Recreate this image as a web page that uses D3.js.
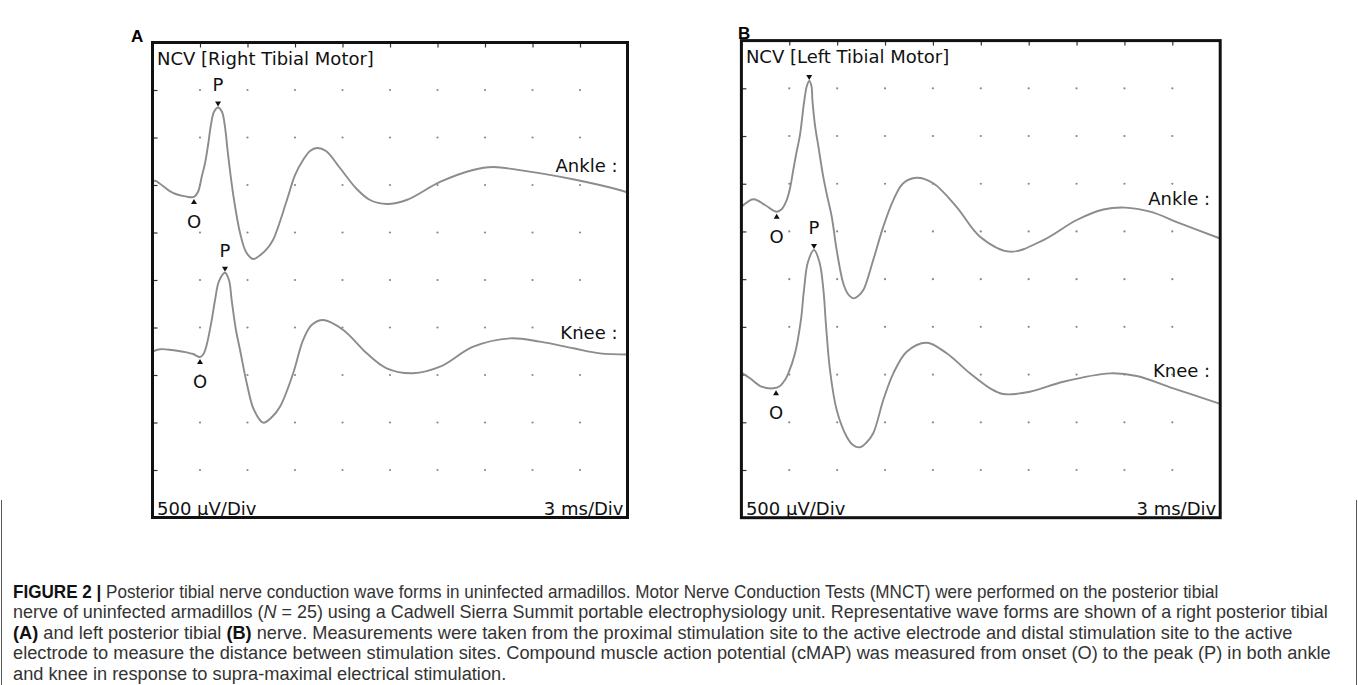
<!DOCTYPE html>
<html>
<head>
<meta charset="utf-8">
<script src="https://cdn.jsdelivr.net/npm/d3@7"></script>
<style>
  body { margin: 0; background: #fff; }
  svg { display: block; }
</style>
</head>
<body>
<script>
'use strict';
// time in ms (3 ms/div), amplitude in µV (500 µV/div)
let xDivs = d3.range(1, 10).map(function(d){ return d * 3; });
let yDivs = d3.range(-4, 5).map(function(d){ return d * 500; });

let titles = ["NCV [Right Tibial Motor]", "NCV [Left Tibial Motor]"];
let panelLetters = ["A", "B"];
let traceNames = ["Ankle :", "Knee :"];

let ankleA = [[0,1032],[0.16,1045],[0.66,989],[1.29,916],[2.16,877],[2.62,874],[2.87,926],[3.11,1087],[3.32,1232],[3.51,1421],[3.69,1632],[3.88,1768],[4.14,1816],[4.39,1768],[4.58,1610],[4.74,1368],[4.89,1158],[5.15,842],[5.53,495],[5.91,295],[6.35,221],[6.73,253],[7.17,316],[7.61,421],[8.49,842],[9.0,1105],[9.51,1263],[9.95,1358],[10.39,1389],[10.96,1358],[11.84,1179],[12.9,958],[13.74,842],[14.81,800],[16.05,842],[18.16,1032],[20.24,1158],[21.51,1189],[23.4,1151],[26.56,1060],[29.72,937],[30,921]];
let kneeA = [[0,-753],[0.47,-729],[1.23,-737],[1.93,-755],[2.56,-779],[3.0,-811],[3.22,-779],[3.42,-684],[3.74,-421],[3.95,-211],[4.2,-11],[4.58,77],[4.83,0],[5.0,-211],[5.27,-526],[5.53,-737],[5.95,-1084],[6.41,-1368],[7.0,-1502],[7.48,-1453],[8.05,-1334],[8.89,-979],[9.51,-632],[10.05,-474],[10.79,-421],[12.05,-526],[13.53,-772],[14.79,-930],[16.47,-982],[18.16,-913],[20.26,-702],[22.58,-614],[24.47,-649],[26.58,-719],[28.26,-772],[30,-784]];
let ankleB = [[0,756],[0.75,837],[1.48,777],[2.21,707],[2.54,735],[2.84,829],[3.05,955],[3.25,1144],[3.42,1301],[3.67,1511],[3.92,1846],[4.1,2024],[4.25,2077],[4.39,2024],[4.45,1877],[4.61,1615],[4.86,1353],[5.11,1091],[5.36,882],[5.66,654],[5.97,305],[6.38,-43],[6.68,-156],[7.01,-201],[7.31,-177],[7.64,-114],[8.26,201],[8.89,550],[9.52,829],[10.14,1005],[10.98,1063],[12.02,1005],[13.49,756],[14.95,445],[16.83,288],[18.92,410],[21.01,620],[22.68,730],[24.04,750],[25.61,707],[27.49,585],[30,426]];
let kneeB = [[0,-980],[0.54,-1039],[1.27,-1127],[2.0,-1144],[2.42,-1120],[2.73,-1057],[2.94,-987],[3.36,-777],[3.73,-428],[3.92,-114],[4.17,180],[4.55,305],[4.89,180],[5.14,-114],[5.3,-481],[5.55,-952],[5.97,-1371],[6.6,-1651],[6.99,-1738],[7.43,-1762],[7.81,-1717],[8.26,-1615],[8.89,-1267],[9.52,-987],[10.36,-760],[11.61,-666],[12.86,-777],[14.32,-987],[15.58,-1144],[16.41,-1204],[18.08,-1180],[20.17,-1075],[23.1,-987],[24.77,-1015],[27.06,-1144],[30,-1308]];

// label position of "Ankle :" / "Knee :" (µV of baseline)
let labelAmpA = [1140, -624];
let labelAmpB = [777, -1022];

// peak (P) and onset (O) markers: [ms, µV]
let peaksA = [[4.14, 1816], [4.58, 77]];
let onsetsA = [[2.62, 874], [3.0, -811]];
let peaksB = [[4.25, 2077], [4.55, 305]];
let onsetsB = [[2.21, 707], [2.17, -1144]];
let showPeakLabelB = [false, true];

let captionLines = [
  [["FIGURE 2 | ", "b"], ["Posterior tibial nerve conduction wave forms in uninfected armadillos. Motor Nerve Conduction Tests (MNCT) were performed on the posterior tibial", ""]],
  [["nerve of uninfected armadillos (", ""], ["N", "i"], [" = 25) using a Cadwell Sierra Summit portable electrophysiology unit. Representative wave forms are shown of a right posterior tibial", ""]],
  [["(A)", "b"], [" and left posterior tibial ", ""], ["(B)", "b"], [" nerve. Measurements were taken from the proximal stimulation site to the active electrode and distal stimulation site to the active", ""]],
  [["electrode to measure the distance between stimulation sites. Compound muscle action potential (cMAP) was measured from onset (O) to the peak (P) in both ankle", ""]],
  [["and knee in response to supra-maximal electrical stimulation.", ""]]
];
// full-line widths of the justified lines (last line keeps the same glyph scale)
let captionWidths = [1206, 1316, 1280, 1318, null];

let svg = d3.select("body").append("svg")
	.attr("width", 1358)
	.attr("height", 685);

svg.append("rect").attr("width", 1358).attr("height", 685).attr("fill", "#fff");

let panels = [
	{x0: 152.5, x1: 627.5, y0: 42.5, y1: 517.5, traces: [ankleA, kneeA], labelAmp: labelAmpA,
	 peaks: peaksA, onsets: onsetsA, showP: [true, true], letterX: 131, letterY: 41.5},
	{x0: 741.4, x1: 1220.2, y0: 40.6, y1: 517.7, traces: [ankleB, kneeB], labelAmp: labelAmpB,
	 peaks: peaksB, onsets: onsetsB, showP: showPeakLabelB, letterX: 738, letterY: 38.5}
];

let font = "'DejaVu Sans', Verdana, sans-serif";

panels.forEach(function(p, pi){
	let x = d3.scaleLinear().domain([0, 30]).range([p.x0, p.x1]);
	let y = d3.scaleLinear().domain([-2500, 2500]).range([p.y1, p.y0]);
	let g = svg.append("g");

	// grid dots
	let cells = [];
	xDivs.forEach(function(t){ yDivs.forEach(function(v){ cells.push([t, v]); }); });
	g.selectAll("circle.dot")
		.data(cells)
		.enter().append("circle")
			.attr("class", "dot")
			.attr("cx", function(d){ return x(d[0]); })
			.attr("cy", function(d){ return y(d[1]); })
			.attr("r", 1.1)
			.attr("fill", "#888");

	// frame ticks
	let top = g.append("g").attr("transform", "translate(0," + p.y0 + ")")
		.call(d3.axisTop(x).tickValues(xDivs).tickSize(-5).tickFormat(""));
	let left = g.append("g").attr("transform", "translate(" + p.x0 + ",0)")
		.call(d3.axisLeft(y).tickValues(yDivs).tickSize(-5).tickFormat(""));
	[top, left].forEach(function(a){
		a.select(".domain").remove();
		a.selectAll("line").attr("stroke", "#333").attr("stroke-width", 1.2);
	});

	// traces
	let line = d3.line()
		.x(function(d){ return x(d[0]); })
		.y(function(d){ return y(d[1]); })
		.curve(d3.curveCatmullRom.alpha(0.5));
	g.selectAll("path.trace")
		.data(p.traces)
		.enter().append("path")
			.attr("class", "trace")
			.attr("d", line)
			.attr("fill", "none")
			.attr("stroke", "#8c8c8c")
			.attr("stroke-width", 1.9);

	// trace names
	g.selectAll("text.name")
		.data(traceNames)
		.enter().append("text")
			.attr("class", "name")
			.attr("x", x(30) - 10)
			.attr("y", function(d,i){ return y(p.labelAmp[i]); })
			.attr("text-anchor", "end")
			.attr("font-family", font)
			.attr("font-size", 18)
			.attr("fill", "#111")
			.text(function(d){ return d; });

	// peak markers
	p.peaks.forEach(function(d, i){
		let px = x(d[0]), py = y(d[1]);
		g.append("path")
			.attr("d", "M" + (px - 3) + "," + (py - 6) + "L" + (px + 3) + "," + (py - 6) + "L" + px + "," + (py - 1) + "Z")
			.attr("fill", "#111");
		if (p.showP[i]) {
			g.append("text").attr("x", px).attr("y", py - 16)
				.attr("text-anchor", "middle").attr("font-family", font)
				.attr("font-size", 18).attr("fill", "#111").text("P");
		}
	});
	// onset markers
	p.onsets.forEach(function(d){
		let ox = x(d[0]), oy = y(d[1]);
		g.append("path")
			.attr("d", "M" + (ox - 3) + "," + (oy + 7) + "L" + (ox + 3) + "," + (oy + 7) + "L" + ox + "," + (oy + 2) + "Z")
			.attr("fill", "#111");
		g.append("text").attr("x", ox).attr("y", oy + 31)
			.attr("text-anchor", "middle").attr("font-family", font)
			.attr("font-size", 18).attr("fill", "#111").text("O");
	});

	// frame
	g.append("rect")
		.attr("x", p.x0).attr("y", p.y0)
		.attr("width", p.x1 - p.x0).attr("height", p.y1 - p.y0)
		.attr("fill", "none").attr("stroke", "#111").attr("stroke-width", 3);

	// texts in frame
	g.append("text").attr("x", p.x0 + 4.5).attr("y", p.y0 + 22)
		.attr("font-family", font).attr("font-size", 18).attr("fill", "#111")
		.text(titles[pi]);
	g.append("text").attr("x", p.x0 + 4.5).attr("y", p.y1 - 3)
		.attr("font-family", font).attr("font-size", 18).attr("fill", "#111")
		.text("500 µV/Div");
	g.append("text").attr("x", p.x1 - 4).attr("y", p.y1 - 3)
		.attr("text-anchor", "end")
		.attr("font-family", font).attr("font-size", 18).attr("fill", "#111")
		.text("3 ms/Div");

	g.append("text").attr("x", p.letterX).attr("y", p.letterY)
		.attr("font-family", "'Liberation Sans', Arial, sans-serif")
		.attr("font-weight", "bold").attr("font-size", 17).attr("fill", "#000")
		.text(panelLetters[pi]);
});

// caption box sides
svg.append("line").attr("x1", 1.5).attr("x2", 1.5).attr("y1", 500).attr("y2", 685)
	.attr("stroke", "#555").attr("stroke-width", 1);
svg.append("line").attr("x1", 1356.5).attr("x2", 1356.5).attr("y1", 500).attr("y2", 685)
	.attr("stroke", "#555").attr("stroke-width", 1);

// caption
let baseY = 598;
let lastScale = 1;
captionLines.forEach(function(segs, li){
	let t = svg.append("text")
		.attr("font-family", "'Liberation Sans Narrow', 'Liberation Sans', Arial, sans-serif")
		.attr("font-size", 18)
		.attr("fill", "#333");
	segs.forEach(function(s){
		t.append("tspan")
			.attr("font-weight", s[1] === "b" ? "bold" : null)
			.attr("font-style", s[1] === "i" ? "italic" : null)
			.attr("fill", s[1] === "b" ? "#111" : null)
			.text(s[0]);
	});
	let w = t.node().getComputedTextLength();
	let sx = captionWidths[li] ? captionWidths[li] / w : lastScale;
	lastScale = sx;
	t.attr("transform", "translate(13," + (baseY + li * 20.4) + ") scale(" + sx + ",1)");
});
</script>
</body>
</html>
